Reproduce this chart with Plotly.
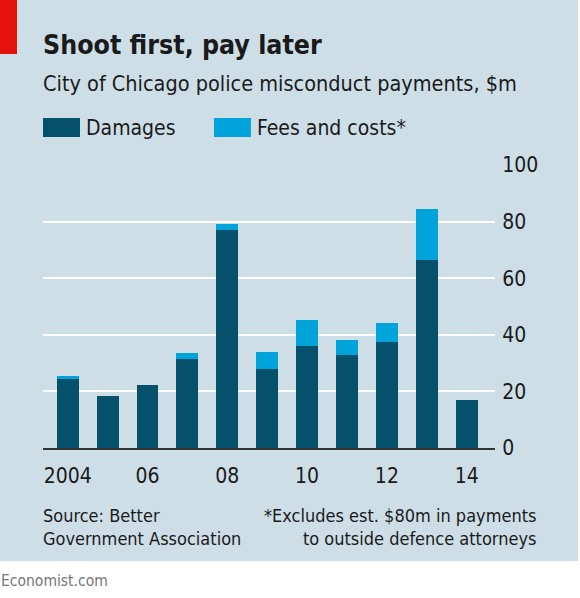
import plotly.graph_objects as go

# 연도별 데이터 ($m)
years = [2004, 2005, 2006, 2007, 2008, 2009, 2010, 2011, 2012, 2013, 2014]
damages = [24.5, 18.5, 22.2, 31.6, 76.9, 27.8, 36.2, 32.9, 37.5, 66.4, 16.9]
fees = [1.1, 0.0, 0.0, 1.9, 2.2, 6.3, 9.2, 5.3, 6.6, 18.1, 0.0]
tick_years = [2004, 2006, 2008, 2010, 2012, 2014]
tick_labels = ["2004", "06", "08", "10", "12", "14"]
y_ticks = [0, 20, 40, 60, 80, 100]

W, H = 580, 598
L, R, T, B = 43, 85, 165, 150
FONT = "Liberation Sans Narrow, DejaVu Sans Condensed, Roboto"
DARK = "#05506b"
LIGHT = "#00a3da"
BG = "#cedee7"
INK = "#1a1a1a"


# 픽셀 -> paper 좌표
def px(x):
    return (x - L) / (W - L - R)


def py(y):
    return (H - B - y) / (H - T - B)


fig = go.Figure()
fig.add_trace(go.Bar(x=years, y=damages, name="Damages", marker=dict(color=DARK, line=dict(width=0)), width=0.55))
fig.add_trace(go.Bar(x=years, y=fees, name="Fees and costs*", marker=dict(color=LIGHT, line=dict(width=0)), width=0.55))

shapes = [
    dict(type="rect", xref="paper", yref="paper", x0=px(0), x1=px(578), y0=py(561), y1=py(0),
         fillcolor=BG, line=dict(width=0), layer="below"),
    dict(type="rect", xref="paper", yref="paper", x0=px(0), x1=px(17), y0=py(54), y1=py(0),
         fillcolor="#e3120b", line=dict(width=0), layer="below"),
    # 범례 박스
    dict(type="rect", xref="paper", yref="paper", x0=px(43), x1=px(80), y0=py(137), y1=py(118),
         fillcolor=DARK, line=dict(width=0)),
    dict(type="rect", xref="paper", yref="paper", x0=px(214), x1=px(251), y0=py(137), y1=py(118),
         fillcolor=LIGHT, line=dict(width=0)),
]

annotations = [
    dict(text="<b>Shoot first, pay later</b>", x=px(41), y=py(44), font=dict(size=26.5, color=INK)),
    dict(text="City of Chicago police misconduct payments, $m", x=px(41), y=py(84), font=dict(size=21.5, color=INK)),
    dict(text="Damages", x=px(84), y=py(128), font=dict(size=21, color=INK)),
    dict(text="Fees and costs*", x=px(255), y=py(128), font=dict(size=21, color=INK)),
    dict(text="Source: Better<br>Government Association", x=px(41), y=py(503), yanchor="top",
         font=dict(size=18, color=INK)),
    dict(text="*Excludes est. $80m in payments<br>to outside defence attorneys", x=px(538), y=py(503),
         yanchor="top", xanchor="right", align="right", font=dict(size=18, color=INK)),
    dict(text="Economist.com", x=px(-1), y=py(581), font=dict(size=15.5, color="#777777")),
]
for a in annotations:
    a.setdefault("xref", "paper")
    a.setdefault("yref", "paper")
    a.setdefault("xanchor", "left")
    a.setdefault("yanchor", "middle")
    a.setdefault("showarrow", False)
    a.setdefault("align", "left")

fig.update_layout(
    width=W, height=H,
    margin=dict(l=L, r=R, t=T, b=B),
    barmode="stack",
    showlegend=False,
    paper_bgcolor="white",
    plot_bgcolor="rgba(0,0,0,0)",
    font=dict(family=FONT, color=INK),
    shapes=shapes,
    annotations=annotations,
    xaxis=dict(
        range=[2003.38, 2014.71],
        tickvals=tick_years,
        ticktext=tick_labels,
        tickfont=dict(size=21),
        ticks="outside", ticklen=8, tickcolor="rgba(0,0,0,0)",
        showgrid=False, zeroline=False,
        showline=True, linecolor="#333333", linewidth=1.5,
    ),
    yaxis=dict(
        range=[0, 100],
        side="right",
        tickvals=y_ticks,
        tickfont=dict(size=21),
        ticks="outside", ticklen=2, tickcolor="rgba(0,0,0,0)",
        showgrid=True, gridcolor="white", gridwidth=2,
        zeroline=False, showline=False,
    ),
)

# 페이지 기본 여백 제거, 모드바 숨김
fig.write_html("out.html", config={"displayModeBar": False},
               post_script="document.body.style.margin='0';")
